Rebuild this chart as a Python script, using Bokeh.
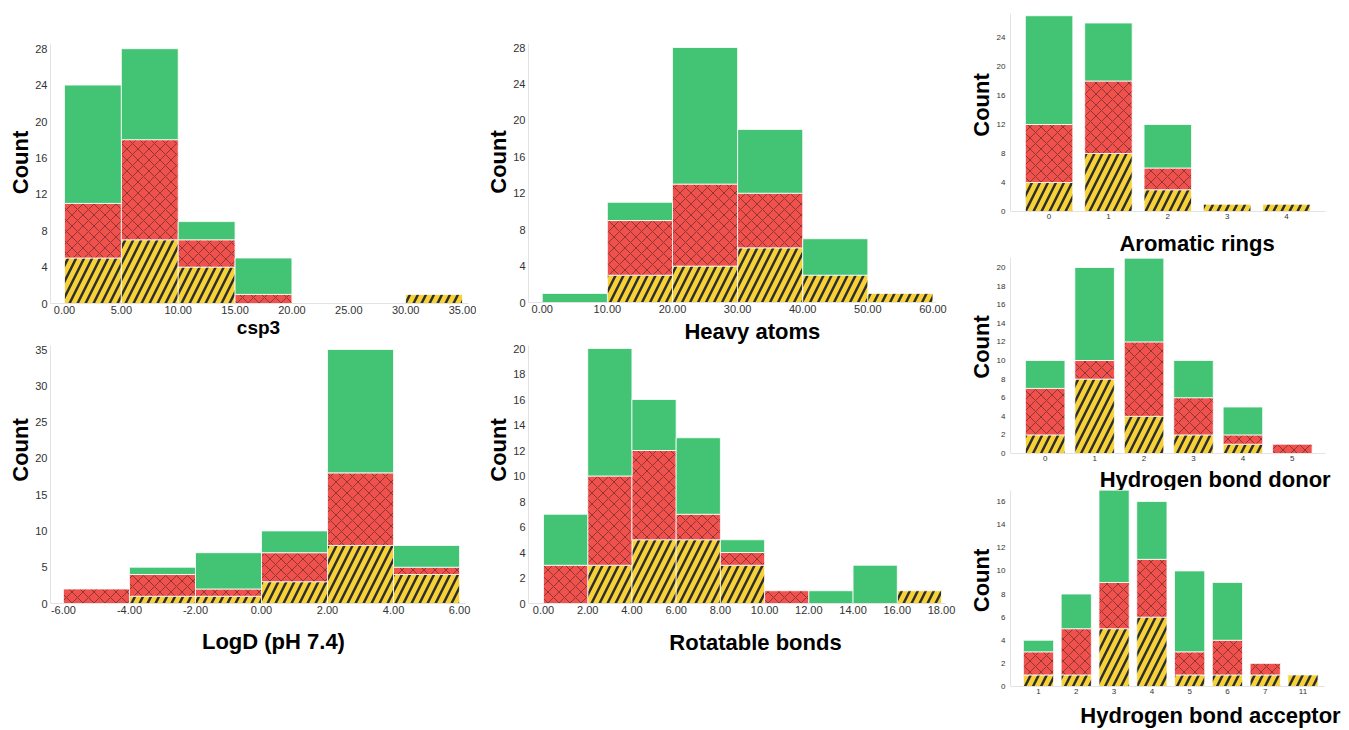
from bokeh.plotting import figure
from bokeh.layouts import row, column
from bokeh.models import Range1d, FixedTicker, PrintfTickFormatter, Label, Title
from bokeh.embed import file_html
from bokeh.resources import INLINE

# ---------------- data ----------------
csp3_edges = [0, 5, 10, 15, 20, 25, 30, 35]
csp3_yellow = [5, 7, 4, 0, 0, 0, 1]
csp3_red = [6, 11, 3, 1, 0, 0, 0]
csp3_green = [13, 10, 2, 4, 0, 0, 0]
csp3_yticks = [0, 4, 8, 12, 16, 20, 24, 28]

heavy_edges = [0, 10, 20, 30, 40, 50, 60]
heavy_yellow = [0, 3, 4, 6, 3, 1]
heavy_red = [0, 6, 9, 6, 0, 0]
heavy_green = [1, 2, 15, 7, 4, 0]
heavy_yticks = [0, 4, 8, 12, 16, 20, 24, 28]

logd_edges = [-6, -4, -2, 0, 2, 4, 6]
logd_yellow = [0, 1, 1, 3, 8, 4]
logd_red = [2, 3, 1, 4, 10, 1]
logd_green = [0, 1, 5, 3, 17, 3]
logd_yticks = [0, 5, 10, 15, 20, 25, 30, 35]

rot_edges = [0, 2, 4, 6, 8, 10, 12, 14, 16, 18]
rot_yellow = [0, 3, 5, 5, 3, 0, 0, 0, 1]
rot_red = [3, 7, 7, 2, 1, 1, 0, 0, 0]
rot_green = [4, 10, 4, 6, 1, 0, 1, 3, 0]
rot_yticks = [0, 2, 4, 6, 8, 10, 12, 14, 16, 18, 20]

arom_cats = ["0", "1", "2", "3", "4"]
arom_yellow = [4, 8, 3, 1, 1]
arom_red = [8, 10, 3, 0, 0]
arom_green = [15, 8, 6, 0, 0]
arom_yticks = [0, 4, 8, 12, 16, 20, 24]

hbd_cats = ["0", "1", "2", "3", "4", "5"]
hbd_yellow = [2, 8, 4, 2, 1, 0]
hbd_red = [5, 2, 8, 4, 1, 1]
hbd_green = [3, 10, 9, 4, 3, 0]
hbd_yticks = [0, 2, 4, 6, 8, 10, 12, 14, 16, 18, 20]

hba_cats = ["1", "2", "3", "4", "5", "6", "7", "11"]
hba_yellow = [1, 1, 5, 6, 1, 1, 1, 1]
hba_red = [2, 4, 4, 5, 2, 3, 1, 0]
hba_green = [1, 3, 8, 5, 7, 5, 0, 0]
hba_yticks = [0, 2, 4, 6, 8, 10, 12, 14, 16]

# ---------------- style ----------------
GREEN = "#43C374"
RED = "#F0514D"
YELLOW = "#F6D238"
FONT = "Liberation Sans"
AXIS_COL = "#e3e3e3"
TICK_COL = "#333333"


def seg_styles():
    return [
        dict(fill_color=YELLOW, hatch_pattern="right_diagonal_line", hatch_color="#2e2e2e",
             hatch_weight=2.5, hatch_scale=16, hatch_alpha=1.0),
        dict(fill_color=RED, hatch_pattern="diagonal_cross", hatch_color="#4a2424",
             hatch_weight=1, hatch_scale=11, hatch_alpha=0.6),
        dict(fill_color=GREEN),
    ]


class Geo:
    """Pixel geometry of one panel in the page (layout only)."""
    def __init__(self, ox, oy, w, h, fl, ax_r, ft, base, xa, pa, xb, pb, ppu):
        self.ox, self.oy, self.w, self.h = ox, oy, w, h
        self.fl, self.fr, self.ft, self.base = fl, ox + w, ft, base
        self.ax_r = ax_r
        self.fb = oy + h
        self.ppx = (pb - pa) / (xb - xa)
        self.xa, self.pa = xa, pa
        self.ppu = ppu

    def dx(self, px):
        return self.xa + (px - self.pa) / self.ppx

    def dy(self, py):
        return (self.base - py) / self.ppu

    def xr(self):
        return (self.dx(self.fl), self.dx(self.fr))

    def yr(self):
        return (self.dy(self.fb), self.dy(self.ft))


def base_fig(g, yticks, ytick_size, count_cy):
    xr, yr = g.xr(), g.yr()
    p = figure(width=g.w, height=g.h, x_range=Range1d(*xr), y_range=Range1d(*yr),
               output_backend="svg", toolbar_location=None,
               min_border_left=g.fl - g.ox, min_border_right=0,
               min_border_top=g.ft - g.oy, min_border_bottom=0)
    p.xgrid.visible = False
    p.ygrid.visible = False
    p.outline_line_color = None
    p.background_fill_color = "white"
    p.border_fill_color = "white"
    for ax in (p.xaxis[0], p.yaxis[0]):
        ax.axis_line_color = AXIS_COL
        ax.axis_line_width = 1
        ax.major_tick_line_color = None
        ax.minor_tick_line_color = None
        ax.major_tick_out = 0
        ax.major_tick_in = 0
        ax.major_label_text_font = FONT
        ax.major_label_text_color = TICK_COL
    p.xaxis.fixed_location = 0
    p.xaxis.bounds = (xr[0], g.dx(g.ax_r))
    p.yaxis.bounds = (0, yr[1])
    p.yaxis.ticker = FixedTicker(ticks=yticks)
    p.yaxis.major_label_text_font_size = ytick_size
    # "Count" as a vertical title on the left side
    count_w = 63.5
    off = g.fb - (count_cy + count_w / 2)
    p.add_layout(Title(text="Count", align="left", offset=off, standoff=0,
                       text_font=FONT, text_font_size="22px", text_font_style="bold",
                       text_color="black"), "left")
    return p


def stack(p, lefts, rights, series):
    bottoms = [0] * len(lefts)
    for counts, st in zip(series, seg_styles()):
        L, R, B, T = [], [], [], []
        for i, c in enumerate(counts):
            if c > 0:
                L.append(lefts[i]); R.append(rights[i])
                B.append(bottoms[i]); T.append(bottoms[i] + c)
            bottoms[i] += c
        p.quad(left=L, right=R, bottom=B, top=T, line_color="white", line_width=1,
               line_alpha=0.8, **st)


def xtitle(p, g, text, cx, cy, size="22px"):
    p.add_layout(Label(x=g.dx(cx), y=g.dy(cy), text=text,
                       text_align="center", text_baseline="middle", text_font=FONT,
                       text_font_size=size, text_font_style="bold", text_color="black"))


def hist(g, edges, yellow, red, green, yticks, name, tcx, tcy, count_cy, tsize="22px"):
    p = base_fig(g, yticks, "11px", count_cy)
    p.xaxis.ticker = FixedTicker(ticks=edges)
    p.xaxis.formatter = PrintfTickFormatter(format="%.2f")
    p.xaxis.major_label_text_font_size = "11px"
    p.xaxis.major_label_standoff = 2
    p.yaxis.major_label_standoff = 3
    stack(p, edges[:-1], edges[1:], [yellow, red, green])
    xtitle(p, g, name, tcx, tcy, tsize)
    return p


def bars(g, cats, yellow, red, green, yticks, name, tcx, tcy, count_cy):
    p = base_fig(g, yticks, "8px", count_cy)
    idx = list(range(len(cats)))
    p.xaxis.ticker = FixedTicker(ticks=idx)
    p.xaxis.major_label_overrides = {i: c for i, c in zip(idx, cats)}
    p.xaxis.major_label_text_font_size = "8px"
    p.xaxis.major_label_standoff = 2
    p.yaxis.major_label_standoff = 5
    lefts = [i - 0.4 for i in idx]
    rights = [i + 0.4 for i in idx]
    stack(p, lefts, rights, [yellow, red, green])
    xtitle(p, g, name, tcx, tcy)
    return p


#         ox   oy   w    h   frameL axisR frameT base  xa  pxa    xb  pxb     px/unit
g1 = Geo(0, 0, 476, 344, 50, 468, 43, 303, 0, 64, 35, 462, 9.1)
g6 = Geo(0, 344, 476, 316, 48, 465, 345, 603, -6, 61, 6, 459, 7.257)
g2 = Geo(476, 0, 482, 344, 520, 936, 43, 302, 0, 534, 60, 932, 9.107)
g7 = Geo(476, 344, 482, 316, 528, 945, 345, 603, 0, 543, 18, 941, 12.75)
g3 = Geo(958, 0, 391, 257, 1002, 1324, 13, 211, 0, 1041.5, 4, 1284.5, 7.25)
g4 = Geo(958, 257, 391, 233, 1002, 1324, 257, 453, 0, 1037.5, 5, 1290.5, 9.3)
g5 = Geo(958, 490, 391, 240, 1010, 1324, 490, 686, 0, 1038, 7, 1302.5, 11.56)

p1 = hist(g1, csp3_edges, csp3_yellow, csp3_red, csp3_green, csp3_yticks,
          "csp3", 258, 326.5, 162, "19px")
p6 = hist(g6, logd_edges, logd_yellow, logd_red, logd_green, logd_yticks,
          "LogD (pH 7.4)", 272, 641, 449.5)
p2 = hist(g2, heavy_edges, heavy_yellow, heavy_red, heavy_green, heavy_yticks,
          "Heavy atoms", 748, 331, 161.5)
p7 = hist(g7, rot_edges, rot_yellow, rot_red, rot_green, rot_yticks,
          "Rotatable bonds", 755, 641.5, 449.5)
p3 = bars(g3, arom_cats, arom_yellow, arom_red, arom_green, arom_yticks,
          "Aromatic rings", 1193, 242.5, 104.5)
p4 = bars(g4, hbd_cats, hbd_yellow, hbd_red, hbd_green, hbd_yticks,
          "Hydrogen bond donor", 1211.5, 478.5, 346.5)
p5 = bars(g5, hba_cats, hba_yellow, hba_red, hba_green, hba_yticks,
          "Hydrogen bond acceptor", 1210, 715, 580)

layout = row(column(p1, p6, spacing=0), column(p2, p7, spacing=0),
             column(p3, p4, p5, spacing=0), spacing=0)

open("out.html", "w").write(file_html(layout, INLINE))
